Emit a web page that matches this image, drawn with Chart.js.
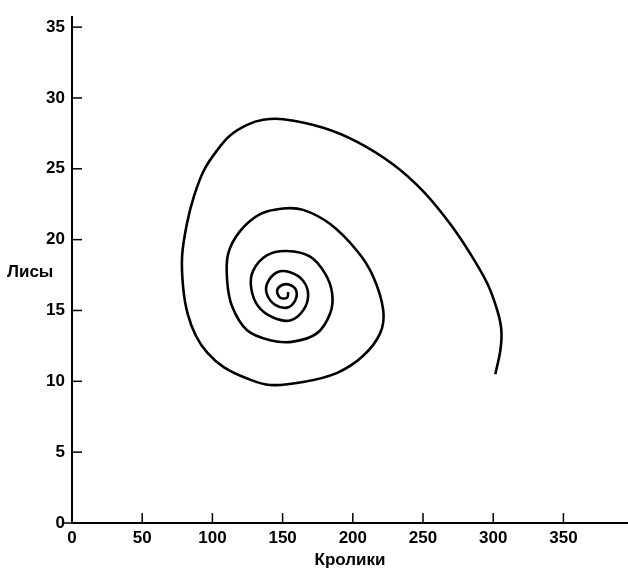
<!DOCTYPE html>
<html><head><meta charset="utf-8">
<script src="https://cdn.jsdelivr.net/npm/chart.js@4"></script>
<style>html,body{margin:0;padding:0;background:#fff}#wrap{width:628px;height:569px;position:relative}</style>
</head><body><div id="wrap"><canvas id="c" width="628" height="569"></canvas></div>
<script>
// Rabbits (x) and foxes (y) along the trajectory, from start (bottom right) to the spiral centre
const rabbits = [301.5,305.1,305.8,302.9,295.8,283.7,269.4,250.2,228.8,203.1,178.9,150.4,136.1,124.7,112.6,103.3,94.0,87.0,81.8,78.4,79.2,82.3,88.3,96.5,108.0,124.7,141.1,164.6,188.9,207.4,219.5,221.7,214.5,203.1,183.9,164.6,150.4,134.0,119.7,111.2,110.5,114.0,124.7,141.1,157.5,174.6,183.9,185.3,180.3,169.6,153.2,139.0,129.0,127.6,132.6,143.3,155.4,164.6,168.2,164.6,155.4,146.1,139.0,139.0,144.7,153.2,158.9,159.7,155.4,149.7,146.1,148.3,153.2,154.0];
const foxes   = [10.5,12.2,13.6,15.0,16.9,19.0,21.1,23.4,25.3,26.9,27.9,28.5,28.46,28.1,27.35,26.3,24.9,23.1,21.1,18.8,16.6,14.8,13.2,12.0,11.0,10.2,9.74,9.95,10.6,11.8,13.4,15.0,17.4,19.2,21.1,22.1,22.2,21.8,20.6,19.0,17.1,15.3,13.6,12.9,12.8,13.4,14.8,16.2,17.6,18.8,19.2,18.9,17.8,16.6,15.3,14.5,14.3,15.0,16.1,17.1,17.7,17.7,16.9,16.1,15.4,15.2,15.7,16.4,16.8,16.8,16.4,15.9,15.9,16.3];
const xTickValues = [0,50,100,150,200,250,300,350];
const yTickValues = [0,5,10,15,20,25,30,35];
const xTitle = 'Кролики';
const yTitle = 'Лисы';

const FONT = '"Liberation Sans", Arial, sans-serif';
const points = rabbits.map((r,i)=>({x:r, y:foxes[i]}));

const innerTicks = {
  id:'innerTicks',
  afterDraw(chart){
    const {ctx, scales:{x,y}, chartArea} = chart;
    ctx.save();
    ctx.strokeStyle='#000'; ctx.lineWidth=1.5;
    x.ticks.forEach(t=>{ if(t.value===0) return; const px=x.getPixelForValue(t.value);
      ctx.beginPath(); ctx.moveTo(px, chartArea.bottom); ctx.lineTo(px, chartArea.bottom-10); ctx.stroke();});
    y.ticks.forEach(t=>{ const py=y.getPixelForValue(t.value);
      if(t.value===0){ ctx.beginPath(); ctx.moveTo(chartArea.left-8, py); ctx.lineTo(chartArea.left, py); ctx.stroke(); return; }
      ctx.beginPath(); ctx.moveTo(chartArea.left, py); ctx.lineTo(chartArea.left+10, py); ctx.stroke();});
    ctx.font='bold 17px '+FONT; ctx.fillStyle='#000'; ctx.textAlign='left'; ctx.textBaseline='middle';
    ctx.fillText(yTitle, 7, y.getPixelForValue(17.7));
    ctx.restore();
  }
};

new Chart(document.getElementById('c'), {
  type:'scatter',
  data:{datasets:[{data:points, showLine:true, borderColor:'#000', borderWidth:2.6, pointRadius:0, tension:0.35, fill:false}]},
  options:{
    responsive:false, animation:false, devicePixelRatio:1,
    layout:{padding:{top:10,right:0,left:0,bottom:0}},
    plugins:{legend:{display:false}, tooltip:{enabled:false}},
    scales:{
      x:{type:'linear', min:0, max:396,
        afterBuildTicks(s){ s.ticks = xTickValues.map(v=>({value:v})); },
        afterFit(s){ s.height = 46; },
        grid:{display:false, drawTicks:false, tickLength:0}, border:{display:true, color:'#000', width:2},
        ticks:{color:'#000', padding:5, font:{family:FONT, size:17, weight:'bold'}},
        title:{display:true, text:xTitle, color:'#000', font:{family:FONT, size:17, weight:'bold', lineHeight:1.0}, padding:{top:0,bottom:0}}
      },
      y:{type:'linear', min:0, max:35.7,
        afterBuildTicks(s){ s.ticks = yTickValues.map(v=>({value:v})); },
        afterFit(s){ s.width = 72; },
        grid:{display:false, drawTicks:false, tickLength:0}, border:{display:true, color:'#000', width:2},
        ticks:{color:'#000', padding:7, font:{family:FONT, size:17, weight:'bold'}}
      }
    }
  },
  plugins:[innerTicks]
});
</script></body></html>
